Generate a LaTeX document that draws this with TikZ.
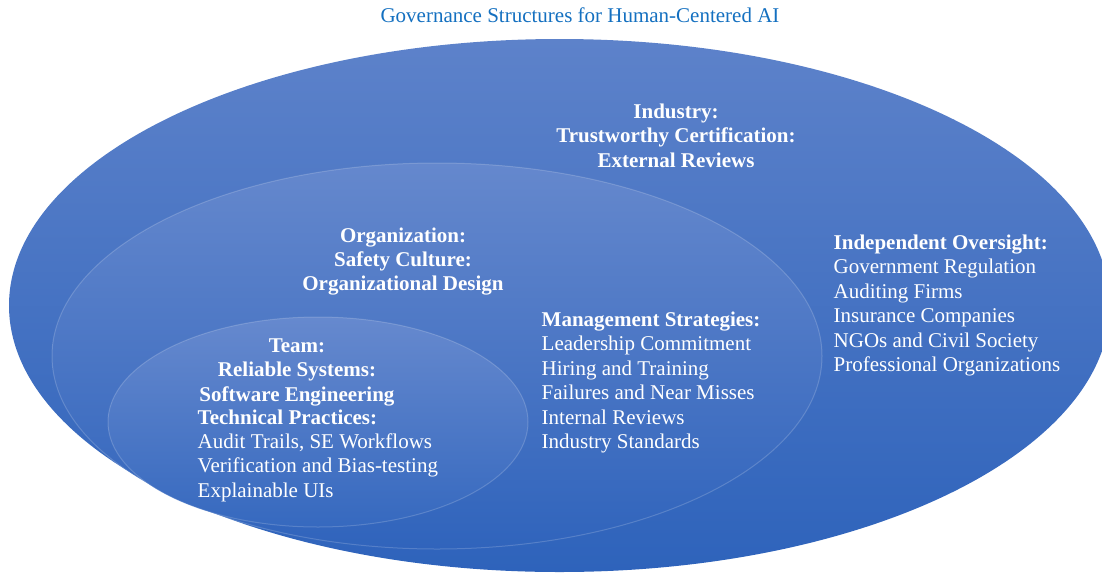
\documentclass[tikz,border=0pt]{standalone}
\usepackage{fontspec}
\setmainfont{Liberation Serif}
\definecolor{titleblue}{RGB}{20,112,192}
\tikzset{
  ring/.style={shading=axis, shading angle=0},
  txt/.style={inner sep=0pt, text=white, font=\fontsize{21}{24.4}\selectfont},
}
\begin{document}
\begin{tikzpicture}[x=1pt,y=-1pt]
\useasboundingbox (0,0) rectangle (1102,573);
% outer ellipse
\path[ring, top color={rgb,255:red,93;green,130;blue,202}, bottom color={rgb,255:red,46;green,99;blue,187}]
  (559.5,305.5) ellipse [x radius=550.5, y radius=266.5];
% middle ellipse
\path[ring, top color={rgb,255:red,101;green,136;blue,205}, bottom color={rgb,255:red,48;green,100;blue,188},
  draw=white, draw opacity=0.18, line width=1pt]
  (437,356) ellipse [x radius=385, y radius=193];
% inner ellipse
\path[ring, top color={rgb,255:red,102;green,137;blue,206}, bottom color={rgb,255:red,54;green,105;blue,191},
  draw=white, draw opacity=0.18, line width=1pt]
  (318,422) ellipse [x radius=210, y radius=105];

\node[txt, text=titleblue, anchor=base] (title) at (580,22.5) {Governance Structures for Human-Centered AI};

\node[txt, anchor=base, font=\fontsize{21}{24.4}\selectfont\bfseries] (industry) at (676,118.5)
  {\begin{tabular}[t]{@{}c@{}}Industry:\\Trustworthy Certification:\\External Reviews\end{tabular}};

\node[txt, anchor=base, font=\fontsize{21}{24.4}\selectfont\bfseries] (org) at (403,242)
  {\begin{tabular}[t]{@{}c@{}}Organization:\\Safety Culture:\\Organizational Design\end{tabular}};

\node[txt, anchor=base, font=\fontsize{21}{24.4}\selectfont\bfseries] (team) at (297,352.3)
  {\begin{tabular}[t]{@{}c@{}}Team:\\Reliable Systems:\\Software Engineering\end{tabular}};

\node[txt, anchor=base west] (teamlist) at (197.5,424)
  {\begin{tabular}[t]{@{}l@{}}\textbf{Technical Practices:}\\Audit Trails, SE Workflows\\Verification and Bias-testing\\Explainable UIs\end{tabular}};

\node[txt, anchor=base west] (mgmt) at (541.5,326.5)
  {\begin{tabular}[t]{@{}l@{}}\textbf{Management Strategies:}\\Leadership Commitment\\Hiring and Training\\Failures and Near Misses\\Internal Reviews\\Industry Standards\end{tabular}};

\node[txt, anchor=base west] (oversight) at (833.5,249.5)
  {\begin{tabular}[t]{@{}l@{}}\textbf{Independent Oversight:}\\Government Regulation\\Auditing Firms\\Insurance Companies\\NGOs and Civil Society\\Professional Organizations\end{tabular}};
\end{tikzpicture}
\end{document}
